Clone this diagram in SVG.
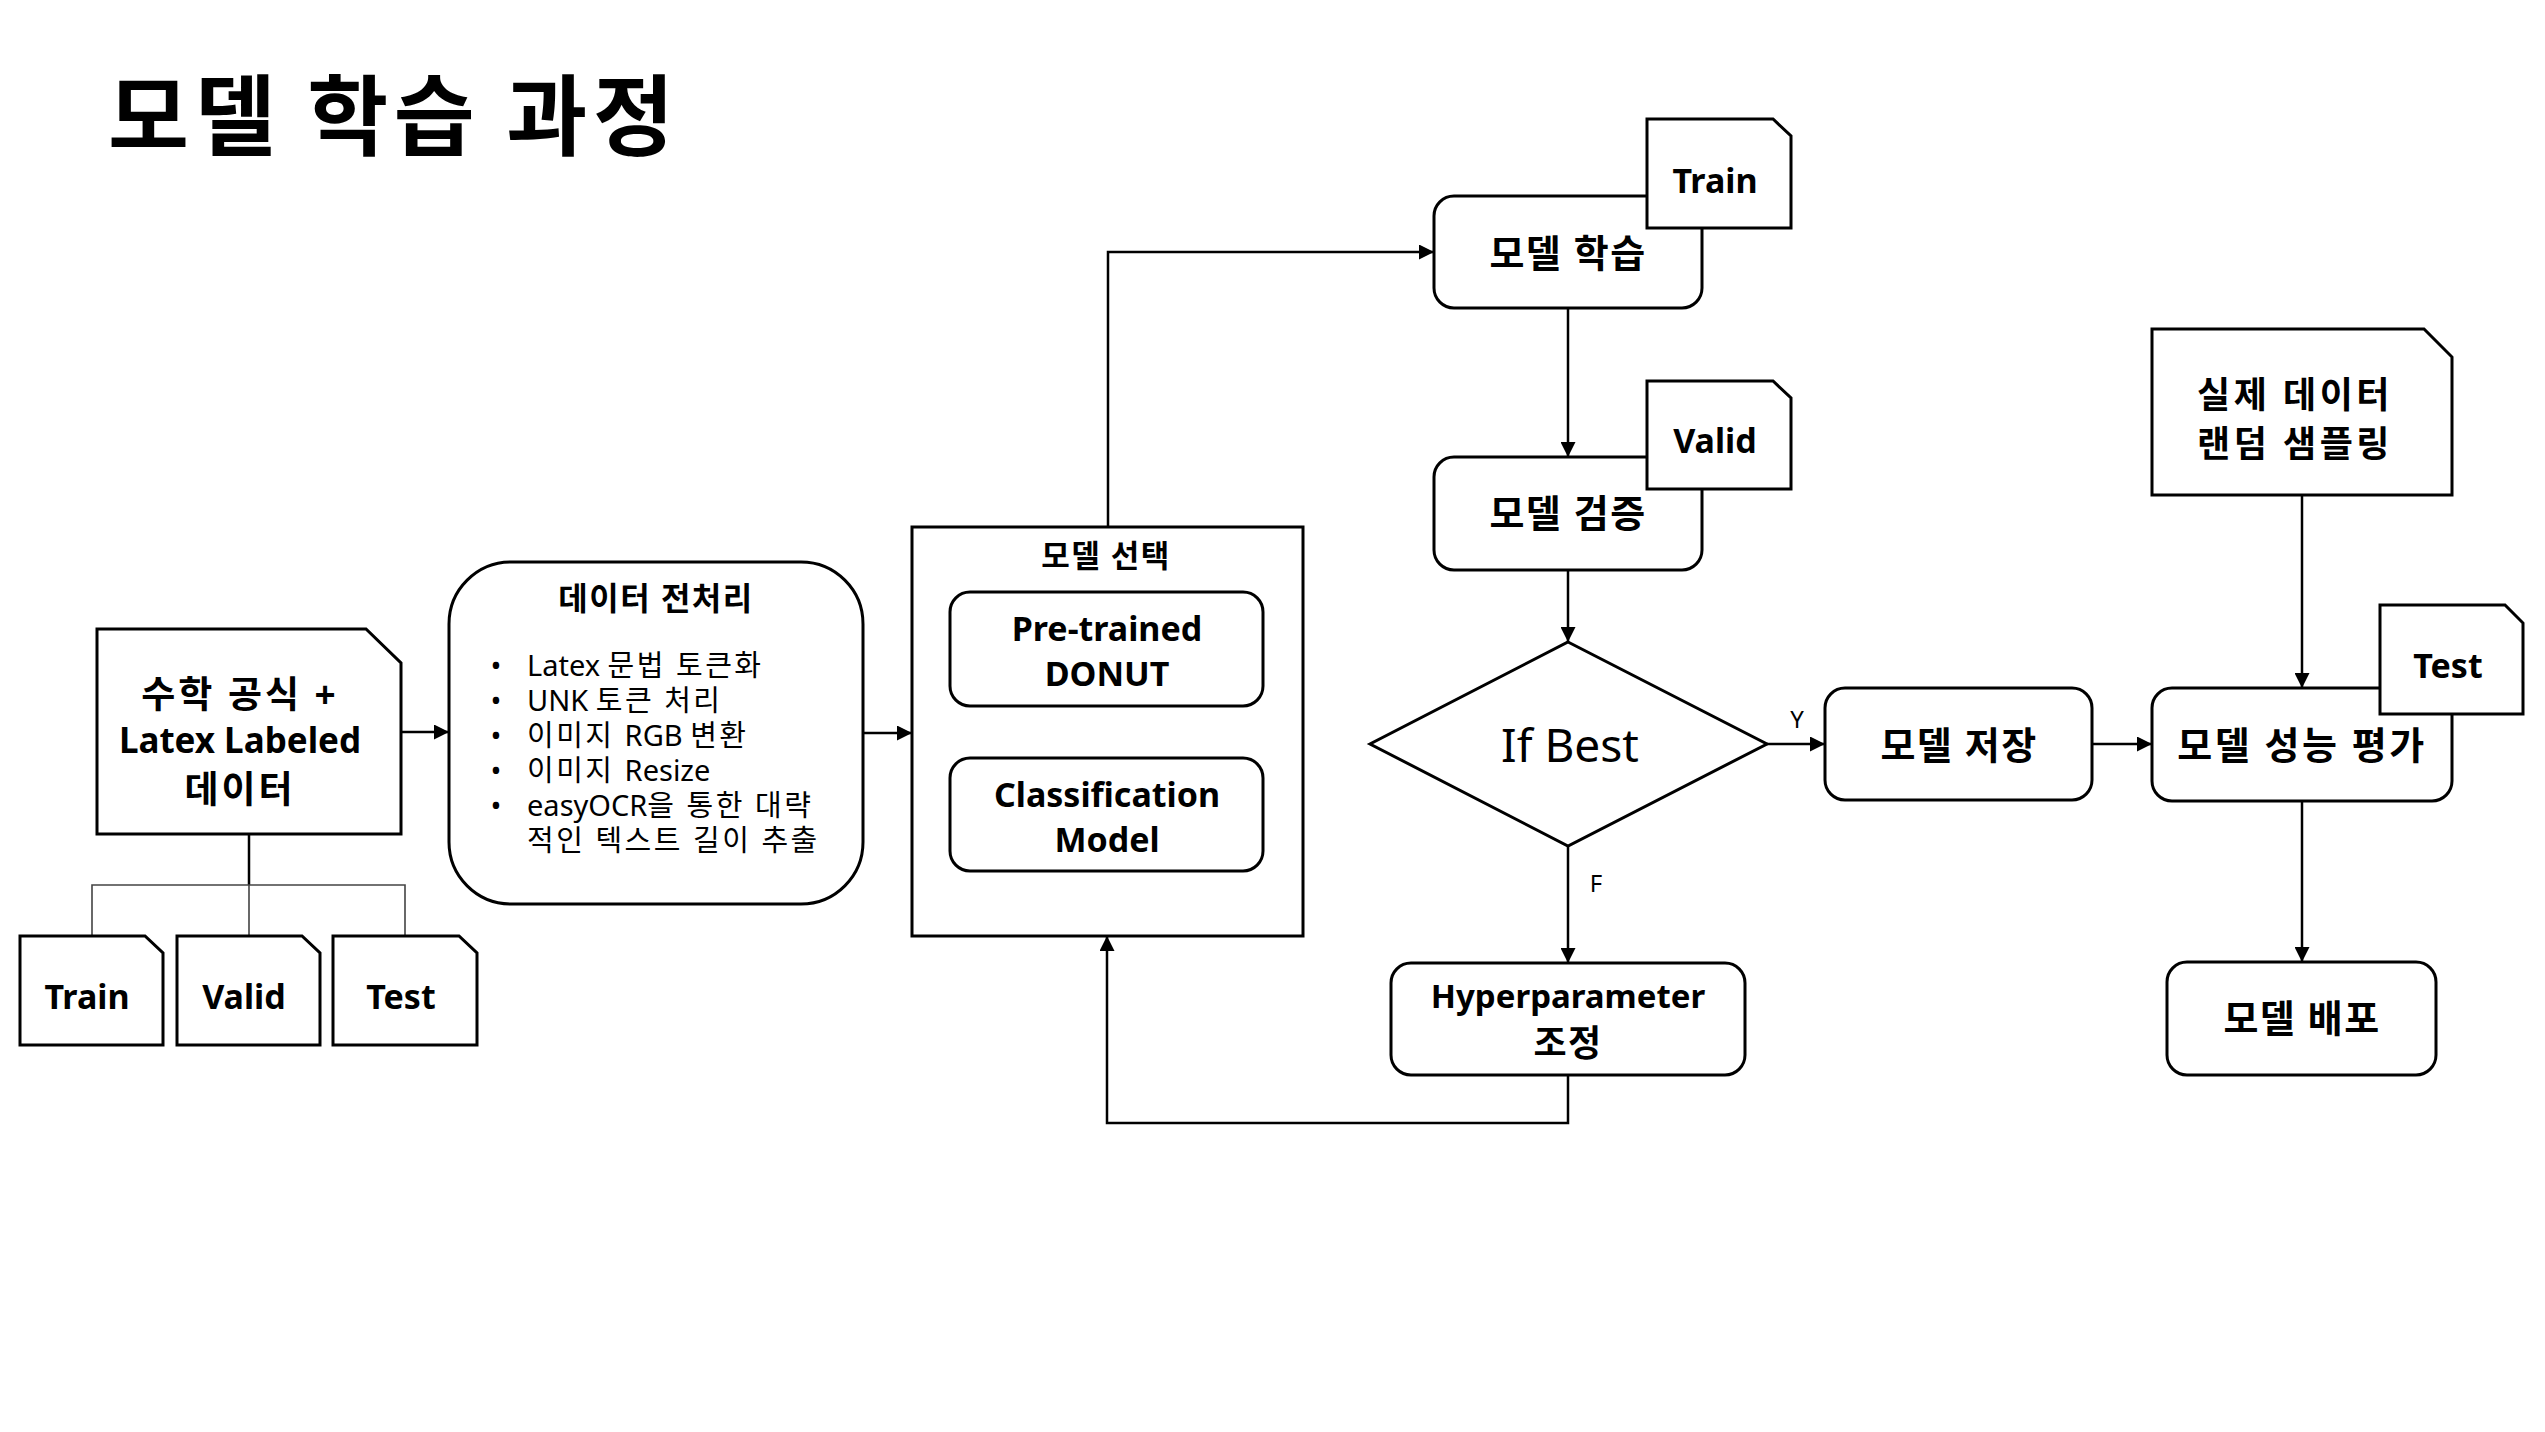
<svg xmlns="http://www.w3.org/2000/svg" width="2545" height="1432" viewBox="0 0 2545 1432">
<defs>
<marker id="arr" viewBox="0 0 10 10" refX="10" refY="5" markerUnits="userSpaceOnUse" markerWidth="16" markerHeight="15" orient="auto">
<path d="M0,0 L10,5 L0,10 z" fill="#000"/>
</marker>
<style>
text{font-family:'Noto Sans','Noto Sans CJK KR',sans-serif;fill:#000}
.node{fill:#fff;stroke:#000;stroke-width:3}
.lab{font-size:34px;font-weight:700;text-anchor:middle}
.kr{font-size:38px;font-weight:700;text-anchor:middle;letter-spacing:1.5px}
.bul{font-size:29px}
.ks{letter-spacing:2.5px}
.con{fill:none;stroke:#000;stroke-width:2.5}
.thin{fill:none;stroke:#444;stroke-width:1.6}
.yn{font-size:24px;text-anchor:middle}
</style>
</defs>
<rect width="2545" height="1432" fill="#fff"/>

<text id="title" x="108" y="148" textLength="566" lengthAdjust="spacing" style="font-family:'Noto Sans CJK KR',sans-serif;font-size:88px;font-weight:700">모델 학습 과정</text>

<g id="connectors">
<path class="con" d="M401,732 H449" marker-end="url(#arr)"/>
<path class="con" d="M863,733 H912" marker-end="url(#arr)"/>
<path class="con" d="M1108,527 V252 H1434" marker-end="url(#arr)"/>
<path class="con" d="M1568,308 V457" marker-end="url(#arr)"/>
<path class="con" d="M1568,570 V642" marker-end="url(#arr)"/>
<path class="con" d="M1767,744 H1825" marker-end="url(#arr)"/>
<path class="con" d="M1568,846 V963" marker-end="url(#arr)"/>
<path class="con" d="M1568,1075 V1123 H1107 V936" marker-end="url(#arr)"/>
<path class="con" d="M2092,744 H2152" marker-end="url(#arr)"/>
<path class="con" d="M2302,495 V688" marker-end="url(#arr)"/>
<path class="con" d="M2302,801 V962" marker-end="url(#arr)"/>
<path class="con" d="M249,834 V885"/>
<path class="thin" d="M249,885 V936 M92,936 V885 H405 V936"/>
<text class="yn" x="1797" y="728">Y</text>
<text class="yn" x="1596" y="892">F</text>
</g>

<g id="data">
<path class="node" d="M97,629 H366 L401,663 V834 H97 Z"/>
<text class="kr" x="240" y="708" style="font-size:37px;letter-spacing:3px">수학 공식 +</text>
<text class="lab" x="240" y="753" style="font-size:35px">Latex Labeled</text>
<text class="kr" x="240" y="803" style="font-size:37px;letter-spacing:3px">데이터</text>
</g>

<g id="split-train">
<path class="node" d="M20,936 H145 L163,953 V1045 H20 Z"/>
<text class="lab" x="87" y="1009">Train</text>
</g>
<g id="split-valid">
<path class="node" d="M177,936 H302 L320,953 V1045 H177 Z"/>
<text class="lab" x="244" y="1009">Valid</text>
</g>
<g id="split-test">
<path class="node" d="M333,936 H459 L477,953 V1045 H333 Z"/>
<text class="lab" x="401" y="1009">Test</text>
</g>

<g id="preprocess">
<rect class="node" x="449" y="562" width="414" height="342" rx="62" ry="62"/>
<text class="kr" x="656" y="610" style="font-size:32px">데이터 전처리</text>
<g class="bul">
<text x="496" y="676" text-anchor="middle">•</text>
<text x="496" y="711" text-anchor="middle">•</text>
<text x="496" y="746" text-anchor="middle">•</text>
<text x="496" y="781" text-anchor="middle">•</text>
<text x="496" y="816" text-anchor="middle">•</text>
<text x="527" y="676">Latex <tspan class="ks">문법 토큰화</tspan></text>
<text x="527" y="711">UNK <tspan class="ks">토큰 처리</tspan></text>
<text x="527" y="746"><tspan class="ks">이미지 </tspan>RGB <tspan class="ks">변환</tspan></text>
<text x="527" y="781"><tspan class="ks">이미지 </tspan>Resize</text>
<text x="527" y="816">easyOCR<tspan class="ks">을 통한 대략</tspan></text>
<text x="527" y="851" class="ks">적인 텍스트 길이 추출</text>
</g>
</g>

<g id="model-select">
<rect class="node" x="912" y="527" width="391" height="409"/>
<text class="kr" x="1106" y="567" style="font-size:31px">모델 선택</text>
</g>
<g id="donut">
<rect class="node" x="950" y="592" width="313" height="114" rx="20" ry="20"/>
<text class="lab" x="1107" y="641">Pre-trained</text>
<text class="lab" x="1107" y="686">DONUT</text>
</g>
<g id="classification">
<rect class="node" x="950" y="758" width="313" height="113" rx="20" ry="20"/>
<text class="lab" x="1107" y="807">Classification</text>
<text class="lab" x="1107" y="852">Model</text>
</g>

<g id="train-step">
<rect class="node" x="1434" y="196" width="268" height="112" rx="20" ry="20"/>
<text class="kr" x="1568" y="267">모델 학습</text>
</g>
<g id="train-doc">
<path class="node" d="M1647,119 H1773 L1791,136 V228 H1647 Z"/>
<text class="lab" x="1715" y="193">Train</text>
</g>

<g id="valid-step">
<rect class="node" x="1434" y="457" width="268" height="113" rx="20" ry="20"/>
<text class="kr" x="1568" y="527">모델 검증</text>
</g>
<g id="valid-doc">
<path class="node" d="M1647,381 H1773 L1791,398 V489 H1647 Z"/>
<text class="lab" x="1715" y="453">Valid</text>
</g>

<g id="if-best">
<path class="node" d="M1568,642 L1767,744 L1568,846 L1370,744 Z"/>
<text x="1570" y="762" text-anchor="middle" style="font-size:46px">If Best</text>
</g>

<g id="save">
<rect class="node" x="1825" y="688" width="267" height="112" rx="20" ry="20"/>
<text class="kr" x="1959" y="759">모델 저장</text>
</g>

<g id="hyper">
<rect class="node" x="1391" y="963" width="354" height="112" rx="20" ry="20"/>
<text class="lab" x="1568" y="1008" style="font-size:33px">Hyperparameter</text>
<text class="kr" x="1568" y="1056" style="font-size:36px">조정</text>
</g>

<g id="real-data">
<path class="node" d="M2152,329 H2424 L2452,357 V495 H2152 Z"/>
<text class="kr" x="2295" y="408" style="font-size:36px;letter-spacing:3.5px">실제 데이터</text>
<text class="kr" x="2295" y="457" style="font-size:36px;letter-spacing:3.5px">랜덤 샘플링</text>
</g>

<g id="evaluate">
<rect class="node" x="2152" y="688" width="300" height="113" rx="20" ry="20"/>
<text class="kr" x="2302" y="759" style="letter-spacing:2.5px">모델 성능 평가</text>
</g>
<g id="test-doc">
<path class="node" d="M2380,605 H2505 L2523,623 V714 H2380 Z"/>
<text class="lab" x="2448" y="678">Test</text>
</g>

<g id="deploy">
<rect class="node" x="2167" y="962" width="269" height="113" rx="20" ry="20"/>
<text class="kr" x="2302" y="1032">모델 배포</text>
</g>
</svg>
